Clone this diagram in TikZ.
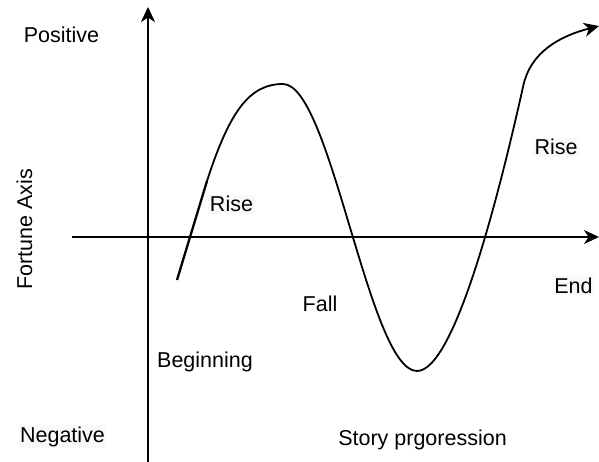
\documentclass[tikz,border=0pt]{standalone}
\usepackage{fontspec}
\setmainfont{Liberation Sans}
\usetikzlibrary{arrows.meta, positioning, calc}
\definecolor{ink}{HTML}{000000}
\definecolor{labelbg}{HTML}{F8F9FA}
\tikzset{
  axisLine/.style = {-{Stealth[length=15pt, width=14pt, inset=4.5pt]}, line width=1.8pt, draw=ink},
  storyLine/.style = {line width=1.8pt, draw=ink},
  storyArrow/.style = {-{Stealth[length=15pt, width=14pt, inset=4.5pt]}, line width=1.8pt, draw=ink},
  lbl/.style = {anchor=base, inner sep=1.5pt, text=ink, font=\fontsize{21.5}{26}\selectfont},
  lblBg/.style = {lbl, fill=labelbg},
}

\begin{document}
\begin{tikzpicture}[x=1pt, y=-1pt]
\useasboundingbox (0,0) rectangle (599,462);

% axes
\coordinate (yBot) at (148,462);
\coordinate (yTop) at (148,7);
\coordinate (xLeft) at (72,237);
\coordinate (xRight) at (599,237);
\draw[axisLine] (yBot) -- (yTop);
\draw[axisLine] (xLeft) -- (xRight);

% story curve
\coordinate (c0) at (177,280);
\coordinate (c1) at (207,181);
\coordinate (peak) at (283,84);
\coordinate (trough) at (417,371);
\coordinate (knee) at (523,87);
\coordinate (tip) at (599,26);
\draw[line width=2.3pt, draw=ink] (c0) -- (c1);
\draw[storyLine] (c1) .. controls (230,110) and (250,84) .. (peak)
  .. controls (331,84) and (369,371) .. (trough)
  .. controls (455,371) and (500,190) .. (knee);
\draw[storyArrow] (knee) .. controls (530,52) and (560,36) .. (tip);

% labels
\node[lbl] (pos) at (61.5,42.7) {Positive};
\node[lblBg] (neg) at (62.5,442) {Negative};
\node[lbl] (prog) at (422.5,445) {Story prgoression};
\node[lbl, rotate=90] (fort) at (32,229.5) {Fortune Axis};
\node[lbl] (begin) at (205,367) {Beginning};
\node[lblBg] (rise1) at (231.5,212) {Rise};
\node[lbl] (fall) at (320,311) {Fall};
\node[lblBg] (rise2) at (556,155) {Rise};
\node[lblBg] (end) at (573.5,293) {End};

\end{tikzpicture}
\end{document}
